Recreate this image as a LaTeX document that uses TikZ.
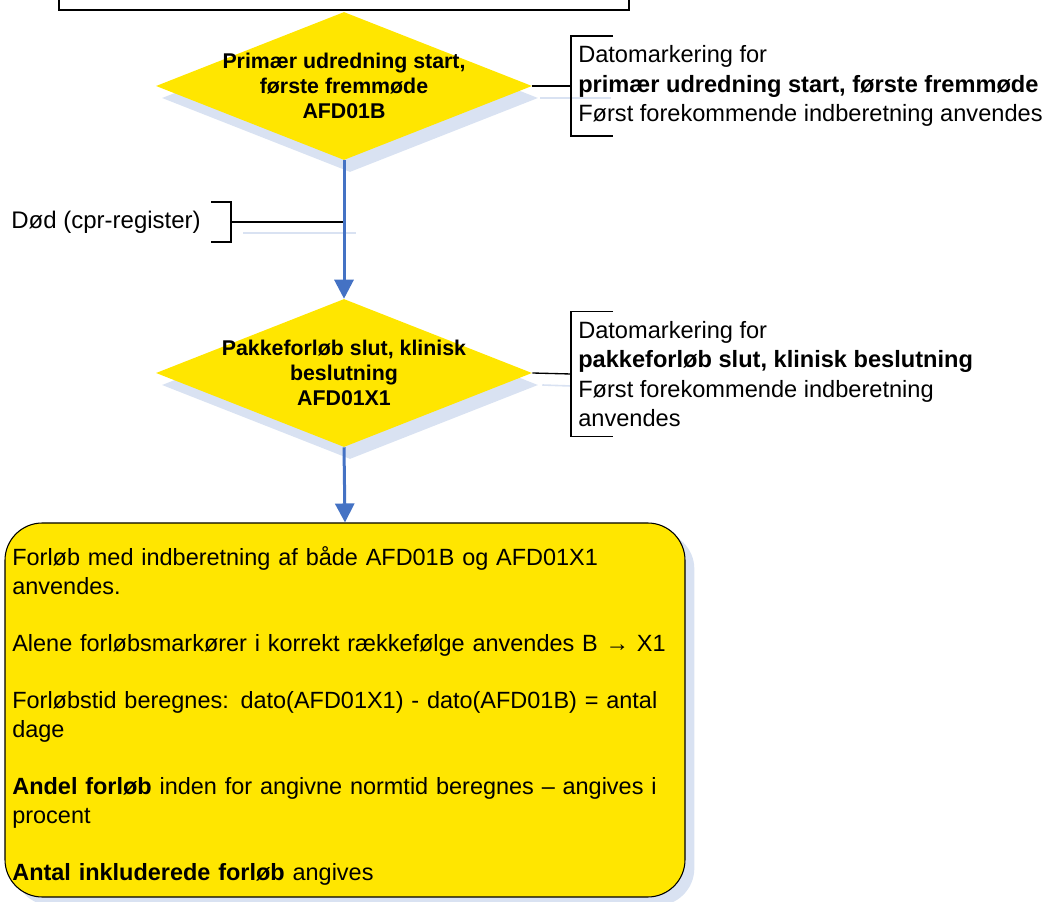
\documentclass[tikz,border=0pt]{standalone}
\usepackage{fontspec}
\setmainfont{Liberation Sans}
\usetikzlibrary{shapes.geometric,arrows.meta,shadows}
\definecolor{fillyellow}{RGB}{255,230,0}
\definecolor{flowblue}{RGB}{68,114,196}
\definecolor{shadeblue}{RGB}{217,226,242}

\begin{document}
\begin{tikzpicture}[
  x=0.75pt, y=-0.75pt,
  decision/.style={diamond, fill=fillyellow, inner sep=0pt,
                   minimum width=282pt, minimum height=111pt,
                   drop shadow={shadow xshift=4.5pt, shadow yshift=-9pt,
                                fill=shadeblue, opacity=1}},
  dectext/.style={align=center, inner sep=0pt,
                  font=\fontsize{16}{18.8}\selectfont\bfseries},
  note/.style={anchor=west, align=left, inner xsep=5.25pt, inner ysep=7pt,
               font=\fontsize{17.7}{22}\selectfont},
  result/.style={draw, line width=0.8pt, fill=fillyellow, rounded corners=28pt,
                 minimum width=510pt, minimum height=280.5pt,
                 text width=499pt, inner xsep=5.25pt, align=left,
                 font=\fontsize{17.6}{21.5}\selectfont,
                 drop shadow={shadow xshift=7pt, shadow yshift=-6.5pt,
                              fill=shadeblue, opacity=1}},
  flow/.style={-{Triangle[width=14.25pt,length=14.25pt]}, flowblue, line width=2.25pt},
  link/.style={black, line width=1pt},
  bracket/.style={black, line width=1pt},
  shadeline/.style={shadeblue, line width=1.2pt},
]
\useasboundingbox (0,0) rectangle (1051,902);

% box from the step above, cut off at the page edge
\node[draw, line width=1.2pt, minimum width=427.5pt, minimum height=52.5pt] (prev) at (344,-25) {};

% the two date markers
\node[decision] (start) at (344,86) {};
\node[dectext] (starttxt) at (start.center) {Primær udredning start,\\første fremmøde\\AFD01B};

\node[decision] (finish) at (344,373) {};
\node[dectext] (finishtxt) at (finish.center) {Pakkeforløb slut, klinisk\\beslutning\\AFD01X1};

% notes on the right
\node[note] (startnote) at (571,86) {Datomarkering for\\
  \textbf{primær udredning start, første fremmøde}\\
  Først forekommende indberetning anvendes};
\node[note] (finishnote) at (571,374) {Datomarkering for\\
  \textbf{pakkeforløb slut, klinisk beslutning}\\
  Først forekommende indberetning\\
  anvendes};

\draw[shadeline] ([shift={(8,12)}]start.east) -- ([shift={(40,12)}]startnote.west);
\draw[shadeline] ([shift={(10,12)}]finish.east) -- ([shift={(0,12)}]finishnote.west);

\draw[bracket] ([xshift=31.5pt]startnote.north west) -- (startnote.north west)
  -- (startnote.south west) -- ([xshift=31.5pt]startnote.south west);
\draw[bracket] ([xshift=31.5pt]finishnote.north west) -- (finishnote.north west)
  -- (finishnote.south west) -- ([xshift=31.5pt]finishnote.south west);
\draw[link] (start.east) -- (startnote.west);
\draw[link] (finish.east) -- (finishnote.west);

% death from the cpr register
\node[anchor=east, inner sep=0pt, font=\fontsize{18}{21}\selectfont] (death) at (201,222) {Død (cpr-register)};
\draw[bracket] ([shift={(10,-20)}]death.east) -- ++(20,0) -- ++(0,40) -- ++(-20,0);
\coordinate (deathtick) at ([xshift=22.5pt]death.east);
\coordinate (deathjoin) at (start.south |- deathtick);
\draw[shadeline] ([shift={(12,11)}]deathtick) -- ([shift={(12,11)}]deathjoin);
\draw[link] (deathtick) -- (deathjoin);

% result box
\node[result] (rules) at (345,710) {\rule{0pt}{23.5pt}Forløb med indberetning af både AFD01B og AFD01X1\\
  anvendes.\\[21.5pt]
  \mbox{Alene forløbsmarkører i korrekt rækkefølge anvendes B → X1}\\[21.5pt]
  Forløbstid beregnes: dato(AFD01X1) - dato(AFD01B) = antal\\
  dage\\[21.5pt]
  \textbf{Andel forløb} inden for angivne normtid beregnes – angives i\\
  procent\\[21.5pt]
  \textbf{Antal inkluderede forløb} angives};

\draw[flow] (start.south) -- (finish.north);
\draw[flow] (finish.south) -- (rules.north);

\end{tikzpicture}
\end{document}
